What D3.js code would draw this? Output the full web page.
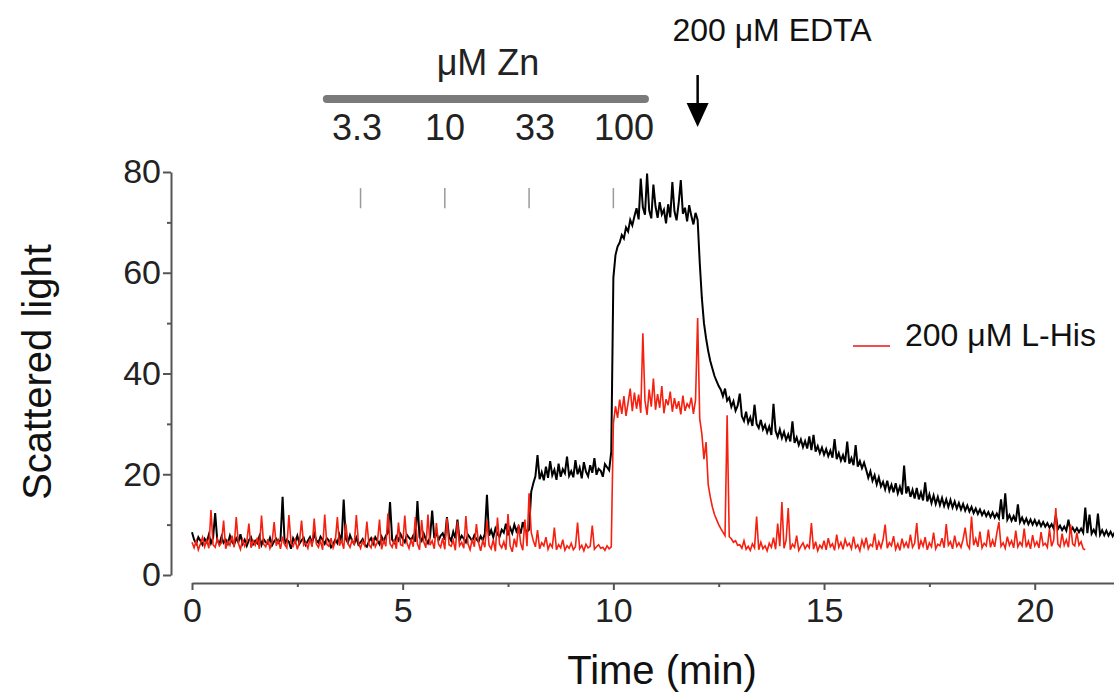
<!DOCTYPE html>
<html>
<head>
<meta charset="utf-8">
<script src="https://cdn.jsdelivr.net/npm/d3@7"></script>
<style>
  body { margin: 0; background: #fff; }
  svg { font-family: "Liberation Sans", Arial, sans-serif; }
</style>
</head>
<body>
<div id="chart"></div>
<script>
// traces sampled every 0.05 min, starting at t = 0
const dt = 0.05;

// black trace (Zn additions, then EDTA)
const blackTrace = [
  8.5, 7.0, 6.2, 7.5, 6.8, 6.0, 7.2, 6.5, 8.0, 6.3, 7.4, 12.3, 6.9, 6.1, 7.6, 6.4, 7.0, 6.2, 7.8, 6.6,
  6.0, 7.3, 6.5, 8.1, 6.2, 7.0, 5.8, 6.9, 7.5, 6.1, 6.8, 6.3, 7.7, 6.0, 7.1, 6.5, 6.2, 7.4, 5.9, 6.7,
  7.2, 6.4, 6.9, 15.5, 6.1, 7.0, 6.6, 5.2, 7.3, 6.5, 7.8, 6.2, 6.9, 7.4, 6.0, 6.8, 7.5, 6.3, 8.2, 6.9,
  6.4, 7.6, 7.0, 6.2, 7.3, 6.8, 5.5, 6.1, 7.0, 6.3, 8.0, 6.6, 15.0, 7.2, 6.4, 7.9, 6.8, 6.2, 7.4, 6.0,
  6.5, 7.1, 6.0, 5.6, 6.7, 7.3, 6.2, 7.5, 6.8, 6.1, 7.6, 6.6, 7.8, 8.4, 14.5, 7.0, 6.4, 7.7, 6.9, 8.1,
  7.2, 6.5, 8.0, 7.4, 6.9, 7.8, 6.6, 14.7, 7.5, 6.8, 8.2, 7.1, 6.3, 7.6, 12.8, 7.3, 8.5, 6.9, 7.8, 8.3,
  7.0, 11.5, 7.6, 6.8, 8.6, 7.3, 11.0, 6.9, 7.8, 7.2, 6.5, 8.0, 7.4, 6.7, 7.9, 7.1, 6.6, 7.7, 6.9, 8.2,
  15.9, 7.8, 8.9, 7.5, 9.2, 8.1, 7.6, 9.0, 8.4, 10.2, 7.9, 9.4, 8.3, 10.0, 8.7, 9.6, 8.2, 10.5, 9.1, 8.6,
  9.0, 16.5, 18.2, 19.6, 23.8, 19.0, 20.4, 18.8, 21.5, 19.3, 22.6, 19.8, 20.9, 18.9, 22.1, 19.5, 21.0, 20.2, 23.5, 19.7,
  20.6, 19.4, 22.8, 20.0, 21.3, 19.2, 22.4, 20.5, 19.6, 21.8, 20.3, 23.2, 19.9, 21.1, 20.7, 19.5, 22.0, 21.4, 20.8, 24.5,
  59.0, 63.5, 65.2, 66.0, 67.5, 66.8, 69.0, 68.2, 70.5, 69.4, 71.2, 72.8, 70.6, 78.7, 73.0, 71.5, 79.7, 72.4, 70.8, 77.5,
  73.2, 70.9, 74.0, 71.6, 72.5, 69.8, 73.6, 71.0, 78.0, 72.2, 70.4, 73.8, 78.4, 71.7, 72.9, 70.2, 73.4, 71.3, 69.6, 71.9,
  70.5, 62.0, 55.0, 50.0, 47.0, 44.5, 42.5, 41.0, 39.5, 38.5, 37.5, 36.8, 35.5, 37.0, 34.6, 35.2, 33.4, 34.5, 32.6, 33.6,
  36.0, 31.5, 30.6, 32.4, 30.2, 31.3, 29.6, 33.8, 30.0, 29.2, 30.8, 28.9, 29.8, 28.3, 29.5, 27.8, 34.0, 28.6, 27.4, 28.9,
  27.2, 28.4, 26.8, 27.9, 26.5, 30.5, 26.2, 27.3, 25.8, 26.9, 25.4, 26.6, 25.1, 27.5, 24.8, 27.8, 24.5, 25.6, 24.2, 25.3,
  23.9, 25.0, 23.6, 24.7, 23.3, 27.0, 23.0, 24.2, 22.7, 23.8, 22.4, 26.5, 22.1, 23.2, 21.8, 25.8, 21.5, 22.6, 21.2, 22.3,
  20.9, 19.3, 20.6, 18.7, 19.8, 18.0, 19.4, 17.6, 18.5, 17.0, 18.7, 16.7, 17.9, 16.4, 18.2, 16.2, 17.5, 16.0, 21.7, 16.2,
  17.6, 15.5, 16.9, 15.2, 17.3, 15.0, 16.4, 14.8, 18.4, 14.6, 16.0, 14.3, 15.8, 14.1, 15.5, 13.9, 15.3, 13.7, 15.0, 13.5,
  14.9, 13.4, 14.6, 13.2, 14.3, 13.0, 14.1, 12.8, 13.8, 12.6, 13.5, 12.3, 13.2, 12.1, 13.0, 11.9, 12.7, 11.7, 12.5, 11.5,
  12.4, 11.4, 12.2, 11.3, 15.0, 11.1, 16.2, 11.0, 11.9, 10.8, 11.7, 10.6, 14.0, 10.5, 11.4, 10.3, 11.2, 10.1, 11.0, 10.0,
  10.9, 9.9, 10.7, 9.7, 10.5, 9.6, 10.3, 9.4, 10.1, 9.2, 11.9, 9.1, 9.8, 8.9, 9.6, 8.8, 11.0, 8.7, 9.4, 8.6,
  9.3, 8.5, 9.2, 8.4, 13.4, 8.3, 12.0, 8.2, 9.0, 8.1, 12.2, 8.0, 8.9, 7.9, 8.8, 7.8, 8.6, 7.7, 8.5, 7.6,
  7.8
];

// red trace (with 200 uM L-His)
const redTrace = [
  6.5, 5.4, 6.8, 5.0, 6.2, 7.5, 5.6, 6.9, 5.3, 12.9, 6.0, 5.5, 7.2, 5.8, 6.4, 10.8, 5.2, 6.7, 5.9, 7.8,
  5.5, 11.5, 6.3, 5.1, 7.0, 5.7, 6.6, 10.2, 5.4, 6.8, 5.9, 7.4, 5.2, 11.8, 6.1, 5.6, 7.1, 5.3, 6.5, 10.5,
  5.8, 6.9, 5.2, 7.6, 6.0, 5.4, 11.9, 6.3, 5.7, 7.0, 5.1, 6.6, 10.8, 5.9, 6.4, 5.3, 7.2, 5.6, 11.2, 6.2,
  5.5, 6.8, 5.0, 12.0, 6.1, 5.7, 7.3, 5.4, 6.6, 11.5, 5.8, 6.9, 5.2, 10.2, 6.3, 5.5, 7.0, 5.9, 11.9, 6.4,
  5.3, 6.7, 5.8, 10.6, 6.0, 5.4, 7.4, 5.6, 6.5, 11.0, 5.1, 6.9, 5.7, 12.2, 6.2, 5.5, 7.1, 5.2, 10.4, 6.0,
  5.8, 11.8, 6.4, 5.3, 7.0, 5.6, 11.5, 6.2, 5.0, 10.9, 6.6, 5.4, 12.0, 5.9, 6.8, 5.2, 10.3, 6.1, 5.5, 7.3,
  5.1, 11.3, 6.0, 5.7, 6.9, 4.9, 10.6, 5.8, 6.5, 5.3, 11.7, 6.2, 5.0, 7.1, 5.6, 10.1, 6.4, 4.8, 6.8, 5.5,
  10.9, 5.9, 5.2, 7.0, 4.7, 11.4, 6.1, 5.4, 6.6, 5.0, 12.1, 5.8, 4.6, 7.2, 5.5, 10.0, 6.3, 4.9, 11.0, 5.7,
  16.2, 8.5, 6.8, 5.6, 8.9, 5.2, 6.4, 5.8, 7.5, 5.1, 6.2, 5.5, 9.4, 5.0, 6.0, 5.4, 7.0, 4.9, 5.8, 5.3,
  6.3, 5.0, 5.6, 10.4, 5.2, 5.9, 4.8, 6.1, 5.4, 5.7, 9.8, 5.1, 5.6, 6.0, 5.3, 5.5, 4.9, 5.8, 5.2, 5.6,
  30.0, 33.5, 31.2, 34.8, 32.0, 35.5, 31.6, 34.2, 37.0, 32.5, 36.2, 33.0, 35.8, 32.2, 48.0, 34.6, 31.8, 36.8, 33.4, 39.0,
  32.8, 35.9, 33.2, 37.5, 32.1, 34.9, 33.7, 36.4, 32.4, 35.1, 33.0, 34.5, 31.9, 35.6, 32.6, 34.0, 33.3, 35.2, 32.0, 34.7,
  51.0, 31.0, 28.0, 23.0, 26.4, 18.0, 15.5, 13.5, 12.0, 11.0, 10.0, 9.2, 8.5, 7.8, 31.7, 7.6, 7.2, 6.5, 6.8, 5.9,
  6.0, 5.3, 6.8, 5.1, 5.7, 4.9, 6.2, 5.4, 11.6, 5.0, 6.5, 5.2, 5.8, 4.8, 6.3, 5.5, 7.4, 5.1, 10.2, 5.7,
  14.5, 5.3, 6.9, 13.3, 5.0, 6.1, 5.5, 7.8, 4.9, 5.7, 6.4, 5.2, 6.0, 5.4, 10.3, 5.1, 6.6, 4.8, 5.9, 5.3,
  6.8, 5.0, 7.3, 5.6, 6.2, 4.9, 8.0, 5.5, 6.5, 5.1, 7.1, 5.8, 6.3, 5.2, 7.6, 5.4, 6.0, 4.8, 6.9, 5.6,
  7.4, 5.2, 6.1, 5.7, 8.2, 5.0, 6.6, 5.4, 7.0, 10.0, 5.3, 6.4, 5.8, 7.7, 5.1, 6.2, 4.9, 7.2, 5.6, 6.5,
  5.3, 8.0, 5.5, 6.3, 10.3, 5.1, 6.8, 5.7, 7.5, 5.0, 6.4, 5.6, 8.4, 5.2, 6.1, 5.8, 7.3, 5.4, 10.1, 5.9,
  6.6, 5.2, 7.8, 5.7, 6.4, 5.5, 7.1, 9.4, 6.0, 5.3, 11.6, 5.9, 7.2, 5.6, 8.6, 5.4, 6.3, 5.8, 9.0, 5.5,
  6.9, 5.6, 8.3, 10.5, 5.7, 6.4, 5.3, 7.6, 5.9, 6.8, 5.4, 8.8, 5.6, 6.5, 5.8, 9.2, 5.5, 6.7, 5.2, 7.9,
  5.8, 6.6, 5.4, 8.5, 5.9, 6.3, 5.5, 9.1, 5.7, 6.9, 13.3, 6.1, 5.6, 8.2, 5.9, 7.0, 5.5, 10.0, 6.2, 5.8,
  8.4, 5.9, 6.6, 5.2, 5.0
];

const xMajor = [0, 5, 10, 15, 20];
const xMinor = [2.5, 7.5, 12.5, 17.5];
const yMajor = [0, 20, 40, 60, 80];
const yMinor = [10, 30, 50, 70];

// Zn additions (time, concentration label)
const znTimes = [4, 6, 8, 10];
const znLabels = ["3.3", "10", "33", "100"];
const edtaTime = 12;

const width = 1114;
const height = 696;

const svg = d3.select("div#chart").append("svg").attr("width", width).attr("height", height)

const x = d3.scaleLinear().domain([0, 22]).range([192, 1119])
const y = d3.scaleLinear().domain([0, 80]).range([575, 172])

const toPoints = arr => arr.map((v, i) => ({ t: i * dt, v: v }))
const line = d3.line().x(d => x(d.t)).y(d => y(d.v))

// axes
const axisColor = "#555";
const yAxisGroup = svg.append("g").attr("transform", "translate(171,0)")
yAxisGroup.call(d3.axisLeft(y).tickValues(yMajor).tickSize(8).tickSizeOuter(0).tickPadding(2))
svg.append("g").attr("transform", "translate(171,0)")
    .call(d3.axisLeft(y).tickValues(yMinor).tickSize(4).tickSizeOuter(0).tickFormat(""))
    .select(".domain").remove()

const xAxisGroup = svg.append("g").attr("transform", "translate(0,583)")
xAxisGroup.call(d3.axisBottom(x).tickValues(xMajor).tickSize(7).tickSizeOuter(0).tickPadding(8))
svg.append("g").attr("transform", "translate(0,583)")
    .call(d3.axisBottom(x).tickValues(xMinor).tickSize(4).tickSizeOuter(0).tickFormat(""))
    .select(".domain").remove()

svg.selectAll(".domain, .tick line").attr("stroke", axisColor).attr("stroke-width", 2)
svg.selectAll(".tick text").attr("font-size", 34).attr("fill", "#222")
    .attr("font-family", "Liberation Sans, Arial, sans-serif")

// axis titles
svg.append("text").attr("x", 662).attr("y", 684).attr("text-anchor", "middle")
    .attr("font-size", 40).attr("fill", "#111").text("Time (min)")
svg.append("text").attr("transform", "translate(51,372) rotate(-90)").attr("text-anchor", "middle")
    .attr("font-size", 40).attr("fill", "#111").text("Scattered light")

// traces
svg.append("path").datum(toPoints(blackTrace)).attr("d", line)
    .attr("fill", "none").attr("stroke", "#000").attr("stroke-width", 2)
svg.append("path").datum(toPoints(redTrace)).attr("d", line)
    .attr("fill", "none").attr("stroke", "#f5200f").attr("stroke-width", 1.6)

// Zn addition marks
svg.selectAll(".znTick").data(znTimes).enter().append("line")
    .attr("x1", d => x(d)).attr("x2", d => x(d))
    .attr("y1", y(76.8)).attr("y2", y(72.8))
    .attr("stroke", "#999").attr("stroke-width", 1.5)

// Zn bar and labels
svg.append("line").attr("x1", x(3.2)).attr("x2", x(10.75)).attr("y1", 99).attr("y2", 99)
    .attr("stroke", "#7a7a7a").attr("stroke-width", 8).attr("stroke-linecap", "round")
svg.append("text").attr("x", 488).attr("y", 75).attr("text-anchor", "middle")
    .attr("font-size", 36).attr("fill", "#222").text("μM Zn")
const labelX = [357, 445, 535, 624];
svg.selectAll(".znLabel").data(znLabels).enter().append("text")
    .attr("x", (d, i) => labelX[i]).attr("y", 140).attr("text-anchor", "middle")
    .attr("font-size", 36).attr("fill", "#222").text(d => d)

// EDTA arrow
svg.append("text").attr("x", 772).attr("y", 41).attr("text-anchor", "middle")
    .attr("font-size", 32).attr("fill", "#111").text("200 μM EDTA")
svg.append("line").attr("x1", x(edtaTime)).attr("x2", x(edtaTime)).attr("y1", 75).attr("y2", 108)
    .attr("stroke", "#000").attr("stroke-width", 2.5)
svg.append("path")
    .attr("d", `M${x(edtaTime) - 11},103 L${x(edtaTime) + 11},103 L${x(edtaTime)},127 Z`)
    .attr("fill", "#000")

// legend
svg.append("line").attr("x1", 853).attr("x2", 890).attr("y1", 346).attr("y2", 346)
    .attr("stroke", "#ee5050").attr("stroke-width", 2)
svg.append("text").attr("x", 905).attr("y", 346)
    .attr("font-size", 32).attr("fill", "#111").text("200 μM L-His")
</script>
</body>
</html>
